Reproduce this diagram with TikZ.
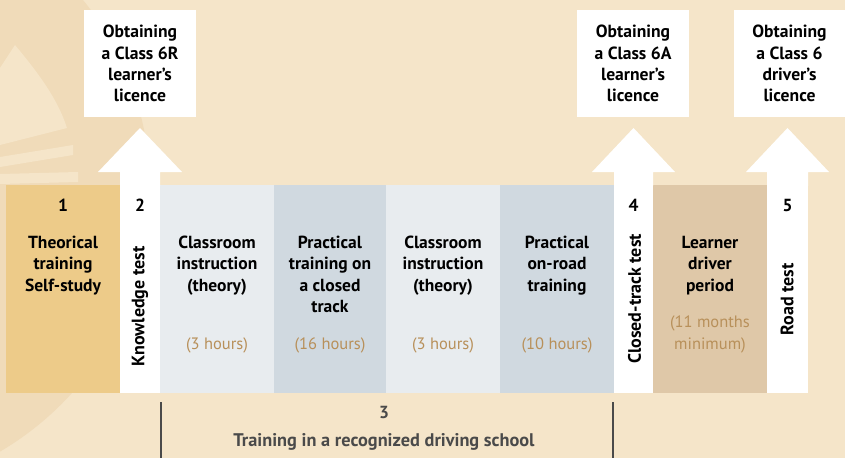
\documentclass[tikz,border=0pt]{standalone}
\usepackage{fontspec}
\setmainfont{PT Sans}
\definecolor{bg}{HTML}{F5E5C9}
\definecolor{bgdark}{HTML}{F0DBB9}
\definecolor{tanA}{HTML}{EDCB89}
\definecolor{lgray}{HTML}{E8ECEF}
\definecolor{bgray}{HTML}{D0D9E0}
\definecolor{tanB}{HTML}{DFC8A8}
\definecolor{hrscol}{HTML}{B8905A}
\definecolor{darkg}{HTML}{4A4A4A}
\begin{document}
\begin{tikzpicture}[x=1pt,y=-1pt,
  every node/.style={inner sep=0pt,outer sep=0pt},
  colbox/.style={anchor=north west,minimum height=208pt},
  topbox/.style={fill=white,minimum width=112pt,minimum height=107pt,anchor=north west,
    font=\fontsize{17.6}{21.3}\selectfont\bfseries,align=center},
  ttl/.style={anchor=north,font=\fontsize{17.5}{21.5}\selectfont\bfseries,align=center},
  num/.style={anchor=base,font=\fontsize{17.5}{20}\selectfont\bfseries},
  hrs/.style={font=\fontsize{16.5}{22}\selectfont,align=center,text=hrscol},
  vtxt/.style={rotate=90,font=\fontsize{18}{20}\selectfont\bfseries},
  uparrow/.style={fill=white},
  brk/.style={draw=darkg,line width=2pt}
]
\useasboundingbox (0,0) rectangle (845,458);
% background
\fill[bg] (0,0) rectangle (845,458);
\begin{scope}
\clip (0,0) rectangle (845,458);
\fill[bgdark] (-153,190) circle (303pt);
\fill[bg] (15,45) .. controls (40,75) and (58,100) .. (67,128) -- (0,145) -- (0,68) -- cycle;
\fill[bg] (0,157) -- (73,145) -- (73,155) -- (0,167) -- cycle;
\fill[bg] (0,174) -- (78,172) -- (78,182) -- (0,184) -- cycle;
\end{scope}

% columns
\node[colbox,fill=tanA,minimum width=114pt] (c1) at (6,185) {};
\node[colbox,fill=white,minimum width=40pt] (c2) at (120,185) {};
\node[colbox,fill=lgray,minimum width=114pt] (c3) at (160,185) {};
\node[colbox,fill=bgray,minimum width=112pt] (c4) at (274,185) {};
\node[colbox,fill=lgray,minimum width=114pt] (c5) at (386,185) {};
\node[colbox,fill=bgray,minimum width=114pt] (c6) at (500,185) {};
\node[colbox,fill=white,minimum width=39pt] (c7) at (614,185) {};
\node[colbox,fill=tanB,minimum width=114pt] (c8) at (653,185) {};
\node[colbox,fill=white,minimum width=41pt] (c9) at (767,185) {};

% arrows
\fill[uparrow] (120,186) -- (120,172) -- (98,172) -- (140,128) -- (182,172) -- (160,172) -- (160,186) -- cycle;
\fill[uparrow] (614,186) -- (614,172) -- (592,172) -- (633.5,128) -- (675,172) -- (653,172) -- (653,186) -- cycle;
\fill[uparrow] (767,186) -- (767,172) -- (746,172) -- (787.5,128) -- (829,172) -- (808,172) -- (808,186) -- cycle;

% top boxes
\node[topbox] (b1) at (84,10) {Obtaining\\a Class 6R\\learner’s\\licence};
\node[topbox] (b2) at (577,10) {Obtaining\\a Class 6A\\learner’s\\licence};
\node[topbox,minimum width=111pt] (b3) at (734,10) {Obtaining\\a Class 6\\driver’s\\licence};

% numbers
\node[num] (n1) at (63,211) {1};
\node[num] (n2) at (140,211) {2};
\node[num] (n4) at (633.5,211) {4};
\node[num] (n5) at (787.5,211) {5};

% titles
\node[ttl] (t1) at (63,235.8) {Theorical\\training\\Self-study};
\node[ttl] (t3) at (217,235.8) {Classroom\\instruction\\(theory)};
\node[ttl] (t4) at (330,235.8) {Practical\\training on\\a closed\\track};
\node[ttl] (t5) at (443,235.8) {Classroom\\instruction\\(theory)};
\node[ttl] (t6) at (557,235.8) {Practical\\on-road\\training};
\node[ttl] (t8) at (710,235.8) {Learner\\driver\\period};

% vertical labels
\node[vtxt] (v2) at (140,306.5) {Knowledge test};
\node[vtxt] (v7) at (634.5,299) {Closed-track test};
\node[vtxt] (v9) at (787,299.5) {Road test};

% hours
\node[hrs,anchor=base] (h3) at (217,349) {(3 hours)};
\node[hrs,anchor=base] (h4) at (330,349) {(16 hours)};
\node[hrs,anchor=base] (h5) at (443,349) {(3 hours)};
\node[hrs,anchor=base] (h6) at (557,349) {(10 hours)};
\node[hrs,anchor=north] (h8) at (710,316) {(11 months\\minimum)};

% bracket
\coordinate (bl) at (161,402);
\coordinate (br) at (613,402);
\draw[brk] (bl) -- (bl |- 0,458);
\draw[brk] (br) -- (br |- 0,458);
\node[num,text=darkg] (n3) at (384,418.5) {3};
\node[num,text=darkg,font=\fontsize{18.3}{20}\selectfont\bfseries] (lab3) at (384,446) {Training in a recognized driving school};
\end{tikzpicture}
\end{document}
